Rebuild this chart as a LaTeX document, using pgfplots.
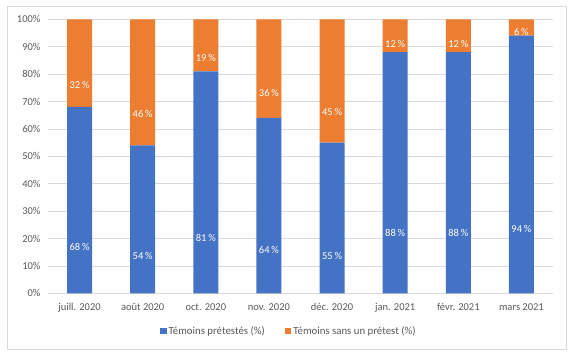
\documentclass[border=0pt]{standalone}
\usepackage{pgfplots}
\pgfplotsset{compat=1.18}
\usetikzlibrary{calc}
\usepackage{fontspec}
\setmainfont{Carlito}
\definecolor{cblue}{HTML}{4472C4}
\definecolor{corange}{HTML}{ED7D31}
\definecolor{cgrid}{HTML}{D9D9D9}
\definecolor{ctext}{HTML}{595959}
\begin{document}
\begin{tikzpicture}
\begin{axis}[
  name=ax,
  scale only axis, width=505pt, height=274pt,
  ybar stacked, bar width=25pt,
  xmin=-0.5, xmax=7.5, ymin=0, ymax=100,
  xtick=data,
  xticklabels={juill. 2020, août 2020, oct. 2020, nov. 2020, déc. 2020, jan. 2021, févr. 2021, mars 2021},
  ytick={0,10,...,100},
  yticklabel={\pgfmathprintnumber{\tick}\%},
  /pgf/number format/assume math mode=true,
  axis line style={draw=none},
  major tick length=0pt,
  ymajorgrids, grid style={cgrid, line width=0.8pt},
  tick label style={font=\fontsize{10.5}{12}\selectfont, text=ctext},
  xticklabel style={yshift=-6.5pt},
  yticklabel style={xshift=-4pt},
  legend style={draw=none, at={(0.477,-0.1376)}, anchor=center, legend columns=2,
    font=\fontsize{10.8}{12}\selectfont, text=ctext,
    /tikz/every even column/.append style={column sep=18pt}},
  legend image code/.code={\fill[#1] (0,-3pt) rectangle (6.5pt,3.5pt);},
  nodes near coords={\pgfmathprintnumber[fixed,precision=0]{\pgfplotspointmeta}\,\%},
  point meta=explicit,
  visualization depends on={\thisrow{y} \as \segh},
  every node near coord/.style={anchor=center, yshift={-\segh*0.685pt}, text=white, font=\fontsize{10.5}{12}\selectfont},
]
\addplot[fill=cblue, draw=none] table[x=x, y=y, meta=y] {
x y
0 68
1 54
2 81
3 64
4 55
5 88
6 88
7 94
};
\addplot[fill=corange, draw=none] table[x=x, y=y, meta=y] {
x y
0 32
1 46
2 19
3 36
4 45
5 12
6 12
7 6
};
\legend{Témoins prétestés (\%), Témoins sans un prétest (\%)}
\end{axis}
\path[use as bounding box] ($(ax.south west)+(-48pt,-63.7pt)$) rectangle ++(576pt,357pt);
\draw[cgrid, line width=0.8pt] ($(ax.south west)+(-41pt,-55.7pt)$) rectangle ++(559pt,343pt);
\end{tikzpicture}
\end{document}
